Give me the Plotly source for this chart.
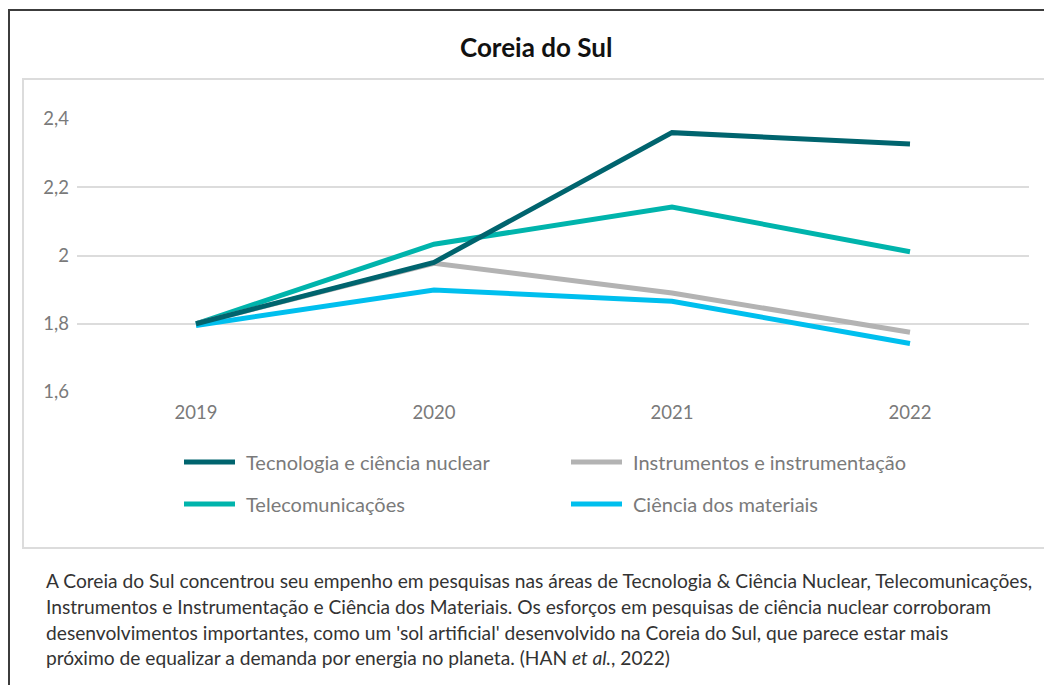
import plotly.graph_objects as go

# ---------------- data ----------------
years = ["2019", "2020", "2021", "2022"]
series_names = [
    "Tecnologia e ciência nuclear",
    "Instrumentos e instrumentação",
    "Telecomunicações",
    "Ciência dos materiais",
]
tecnologia = [1.80, 1.98, 2.36, 2.327]
instrumentos = [1.80, 1.977, 1.89, 1.775]
telecom = [1.80, 2.033, 2.142, 2.011]
materiais = [1.795, 1.899, 1.866, 1.742]
y_ticks = [1.6, 1.8, 2.0, 2.2, 2.4]

title_text = "Coreia do Sul"
caption_lines = [
    "A Coreia do Sul concentrou seu empenho em pesquisas nas áreas de Tecnologia & Ciência Nuclear, Telecomunicações,",
    "Instrumentos e Instrumentação e Ciência dos Materiais. Os esforços em pesquisas de ciência nuclear corroboram",
    "desenvolvimentos importantes, como um 'sol artificial' desenvolvido na Coreia do Sul, que parece estar mais",
    "próximo de equalizar a demanda por energia no planeta. (HAN <i>et al.</i>, 2022)",
]

colors = ["#00646E", "#B3B3B3", "#00B4AC", "#00BFEE"]
values = [tecnologia, instrumentos, telecom, materiais]

# ---------------- layout geometry (screen pixels) ----------------
OFF = 8  # page body margin offset
W, H = 1052, 685
# plot area on screen: x 77..1029, y 119..392
L = 77 - OFF
T = 119 - OFF
R = W - (1029 - OFF)
B = H - (392 - OFF)
PW, PH = W - L - R, H - T - B


def px(x):
    return (x - OFF - L) / PW


def py(y):
    return (H - B - (y - OFF)) / PH


FONT = "Lato"
GRAY = "#7A7A7A"

fig = go.Figure()
order = [2, 1, 3, 0]
for i in order:
    fig.add_trace(go.Scatter(
        x=years, y=values[i], name=series_names[i], mode="lines",
        line=dict(color=colors[i], width=5),
        showlegend=False, hoverinfo="x+y+name",
    ))

shapes = []
annotations = []

# outer dark frame (left and top edges visible)
shapes.append(dict(type="path", xref="paper", yref="paper",
                   path=f"M {px(9)} {py(720)} L {px(9)} {py(10)} L {px(1080)} {py(10)}",
                   line=dict(color="#3C3C3C", width=2), layer="below"))
# inner light frame
shapes.append(dict(type="rect", xref="paper", yref="paper",
                   x0=px(23), x1=px(1050), y0=py(548), y1=py(79),
                   line=dict(color="#DCDCDC", width=2), layer="below"))

# title
annotations.append(dict(text=f"<b>{title_text}</b>", xref="paper", yref="paper",
                        x=px(536), y=py(47), xanchor="center", yanchor="middle",
                        showarrow=False, font=dict(family=FONT, size=26, color="#111111")))

# manual legend (2 x 2)
leg_pos = [(184, 462), (571, 462), (184, 504), (571, 504)]
for (lx, ly), name, col in zip(leg_pos, series_names, colors):
    shapes.append(dict(type="line", xref="paper", yref="paper",
                       x0=px(lx), x1=px(lx + 51), y0=py(ly), y1=py(ly),
                       line=dict(color=col, width=5)))
    annotations.append(dict(text=name, xref="paper", yref="paper",
                            x=px(lx + 60), y=py(ly), xanchor="left", yanchor="middle",
                            showarrow=False, font=dict(family=FONT, size=20, color=GRAY)))

# caption
cap_y = [580, 606, 632, 657]
for line, cy in zip(caption_lines, cap_y):
    annotations.append(dict(text=line, xref="paper", yref="paper",
                            x=px(44), y=py(cy), xanchor="left", yanchor="middle",
                            showarrow=False, align="left",
                            font=dict(family=FONT, size=19.2, color="#333333")))

fig.update_layout(
    width=W, height=H,
    margin=dict(l=L, r=R, t=T, b=B, pad=0),
    paper_bgcolor="white", plot_bgcolor="white",
    separators=",.",
    font=dict(family=FONT, size=18, color=GRAY),
    xaxis=dict(type="category", range=[-0.5, 3.5], showgrid=False, zeroline=False,
               showline=False, ticks="", ticklabelstandoff=7,
               tickfont=dict(size=18.5, color=GRAY), fixedrange=True),
    yaxis=dict(range=[1.6, 2.4], tickvals=y_ticks, showgrid=True, gridcolor="#DCDCDC",
               gridwidth=2, zeroline=False, showline=False, ticks="",
               ticklabelstandoff=7, tickfont=dict(size=18.5, color=GRAY), fixedrange=True),
    shapes=shapes, annotations=annotations,
    showlegend=False,
)

fig.write_html("out.html")
